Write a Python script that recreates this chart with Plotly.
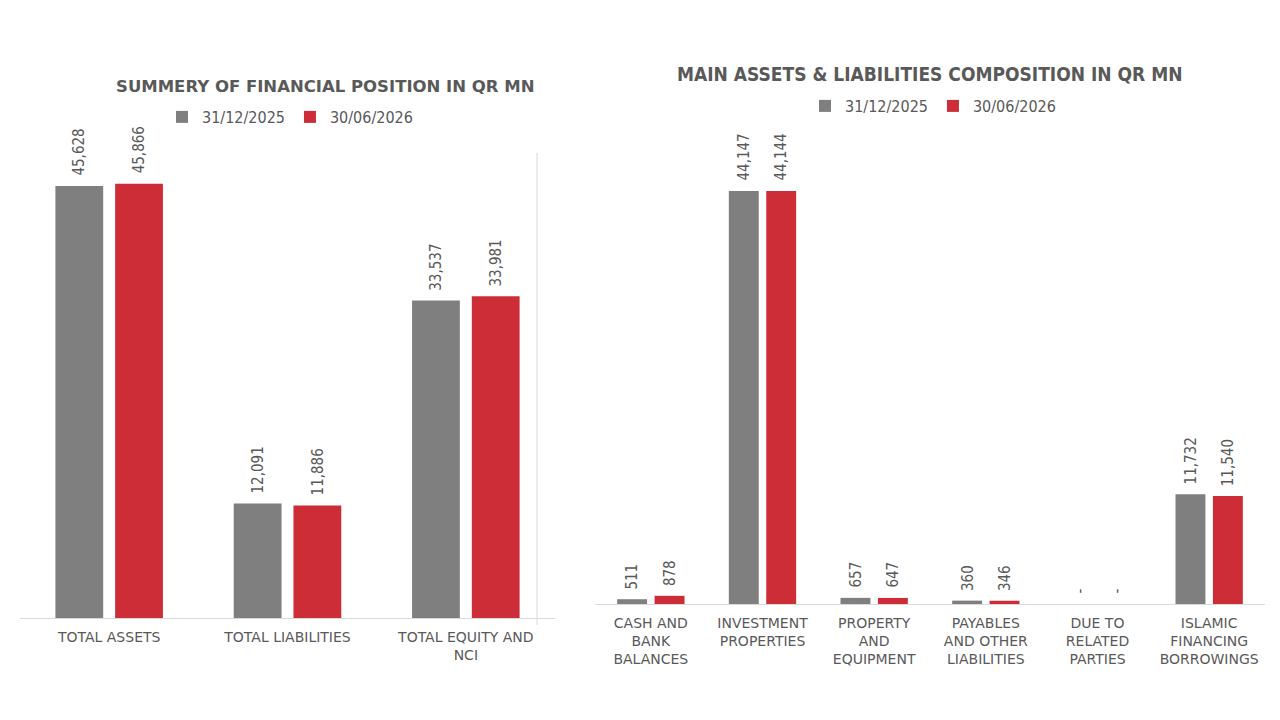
import plotly.graph_objects as go

# data
series_names = ["31/12/2025", "30/06/2026"]
summary_categories = ["TOTAL ASSETS", "TOTAL LIABILITIES", "TOTAL EQUITY AND<br>NCI"]
summary_2025 = [45628, 12091, 33537]
summary_2026 = [45866, 11886, 33981]

composition_categories = [
    "CASH AND<br>BANK<br>BALANCES",
    "INVESTMENT<br>PROPERTIES",
    "PROPERTY<br>AND<br>EQUIPMENT",
    "PAYABLES<br>AND OTHER<br>LIABILITIES",
    "DUE TO<br>RELATED<br>PARTIES",
    "ISLAMIC<br>FINANCING<br>BORROWINGS",
]
composition_2025 = [511, 44147, 657, 360, 0, 11732]
composition_2026 = [878, 44144, 647, 346, 0, 11540]

GREY = "#7f7f7f"
RED = "#cc2d37"
TEXT = "#595959"
LABEL_FONT = "DejaVu Sans Condensed"

OFF = 8


def px_x(x):
    return (x - OFF) / 1280


def px_y(y):
    return 1 - (y - OFF) / 720


def fmt(v):
    return f"{v:,}" if v else "-"


fig = go.Figure()
annotations = []

panels = [
    (summary_categories, [summary_2025, summary_2026], "x", "y", "legend", 30),
    (composition_categories, [composition_2025, composition_2026], "x2", "y2", "legend2", 18.5),
]
for cats, series, xa, ya, leg, half in panels:
    for j, (name, vals, color) in enumerate(zip(series_names, series, [GREY, RED])):
        fig.add_trace(go.Bar(
            x=cats, y=vals, name=name, marker_color=color,
            xaxis=xa, yaxis=ya, legend=leg, hoverinfo="x+y+name",
        ))
        # value labels, rotated, sitting a little above each bar
        for c, v in zip(cats, vals):
            annotations.append(dict(
                x=c, y=v, xref=xa, yref=ya, text=fmt(v), showarrow=False,
                textangle=-90, xanchor="center", yanchor="bottom",
                xshift=(-half if j == 0 else half), yshift=8,
                font=dict(family=LABEL_FONT, size=15, color=TEXT),
            ))

annotations += [
    dict(text="<b>SUMMERY OF FINANCIAL POSITION IN QR MN</b>", x=px_x(325),
         y=px_y(86), xref="paper", yref="paper", showarrow=False,
         xanchor="center", yanchor="middle",
         font=dict(family="DejaVu Sans", size=16.5, color=TEXT)),
    dict(text="<b>MAIN ASSETS & LIABILITIES COMPOSITION IN QR MN</b>", x=px_x(930),
         y=px_y(74), xref="paper", yref="paper", showarrow=False,
         xanchor="center", yanchor="middle",
         font=dict(family="DejaVu Sans Condensed", size=19, color=TEXT)),
]

axis_font = dict(family="DejaVu Sans", size=14, color=TEXT)
legend_font = dict(family=LABEL_FONT, size=16, color=TEXT)

fig.update_layout(
    template="none",
    width=1280, height=720,
    margin=dict(l=0, r=0, t=0, b=0, autoexpand=False),
    paper_bgcolor="white", plot_bgcolor="white",
    barmode="group", bargap=0.33, bargroupgap=0.2,
    xaxis=dict(domain=[px_x(20), px_x(555)], anchor="y", showline=True,
               linecolor="#d9d9d9", ticks="", tickfont=axis_font, tickangle=0,
               ticklabelstandoff=6, automargin=False, showgrid=False),
    yaxis=dict(domain=[px_y(618), px_y(153)], range=[0, 49100],
               visible=False, showgrid=False, automargin=False),
    xaxis2=dict(domain=[px_x(595), px_x(1265)], anchor="y2", showline=True,
                linecolor="#d9d9d9", ticks="", tickfont=axis_font, tickangle=0,
                ticklabelstandoff=6, automargin=False, showgrid=False),
    yaxis2=dict(domain=[px_y(604), px_y(140)], range=[0, 49600],
                visible=False, showgrid=False, automargin=False),
    legend=dict(orientation="h", x=px_x(290), xanchor="center", y=px_y(117),
                yanchor="middle", font=legend_font, itemwidth=30),
    legend2=dict(orientation="h", x=px_x(933), xanchor="center", y=px_y(106),
                 yanchor="middle", font=legend_font, itemwidth=30),
    annotations=annotations,
    shapes=[
        dict(type="line", xref="paper", yref="paper", x0=px_x(537), x1=px_x(537),
             y0=px_y(625), y1=px_y(153), line=dict(color="#d9d9d9", width=1)),
    ],
)

fig.write_html("out.html")
